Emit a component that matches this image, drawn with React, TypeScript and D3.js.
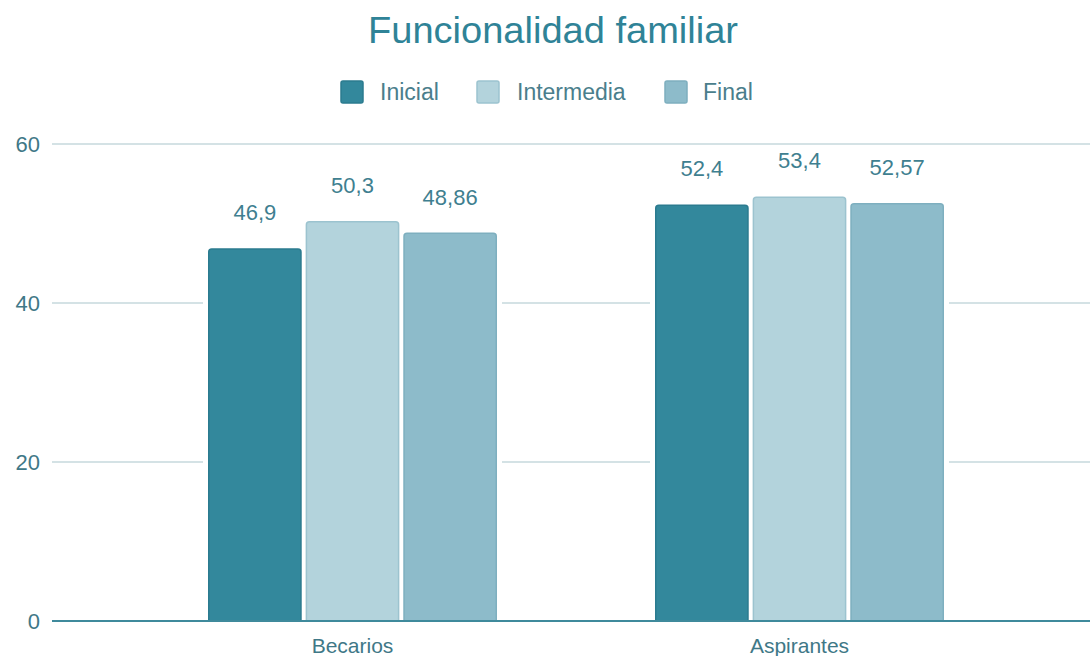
import React from "react";
import * as d3 from "d3";

const categories = ["Becarios", "Aspirantes"];
const seriesNames = ["Inicial", "Intermedia", "Final"];
const inicial = [46.9, 52.4];
const intermedia = [50.3, 53.4];
const finalVals = [48.86, 52.57];
const labelsInicial = ["46,9", "52,4"];
const labelsIntermedia = ["50,3", "53,4"];
const labelsFinal = ["48,86", "52,57"];
const yTicks = [0, 20, 40, 60];

const fills = ["#33889c", "#b3d3dc", "#8dbbca"];
const strokes = ["#2b7b8f", "#9cc3cf", "#7eafbf"];

const W = 1090;
const H = 656;
const FONT = "'Liberation Sans', Arial, sans-serif";

function topRounded(x: number, y: number, w: number, h: number, r: number) {
  const rr = Math.min(r, h);
  return `M${x},${y + h}V${y + rr}Q${x},${y} ${x + rr},${y}H${x + w - rr}Q${x + w},${y} ${x + w},${y + rr}V${y + h}Z`;
}

export default function App() {
  const series = [inicial, intermedia, finalVals];
  const labels = [labelsInicial, labelsIntermedia, labelsFinal];
  const y = d3.scaleLinear().domain([0, 60]).range([621, 144]);
  const x0 = d3.scaleBand<string>().domain(categories).range([129, 1023]).paddingInner(0).paddingOuter(0);
  const groupW = 289;
  const x1 = d3
    .scaleBand<string>()
    .domain(seriesNames)
    .range([0, groupW])
    .paddingInner(0.04);

  const gridLeft = 52;
  const gridRight = 1090;

  const legend = [
    { sx: 341, tx: 380 },
    { sx: 477, tx: 517 },
    { sx: 665, tx: 703 },
  ];

  return (
    <div style={{ position: "fixed", left: 0, top: 0, width: W, height: H }}>
      <svg width={W} height={H} style={{ display: "block", background: "#fff" }}>
        <text
          x={553}
          y={43}
          textAnchor="middle"
          fontFamily={FONT}
          fontSize={36}
          fill="#2f8397"
          textLength={370}
          lengthAdjust="spacingAndGlyphs"
        >
          Funcionalidad familiar
        </text>
        {/* legend */}
        {legend.map((p, i) => (
          <g key={seriesNames[i]}>
            <rect x={p.sx} y={81} width={22} height={22} rx={2} fill={fills[i]} stroke={strokes[i]} strokeWidth={1.5} />
            <text x={p.tx} y={100} fontFamily={FONT} fontSize={23} fill="#4a7e8c">
              {seriesNames[i]}
            </text>
          </g>
        ))}
        {/* gridlines */}
        {yTicks.map((t) => (
          <g key={t}>
            <line
              x1={gridLeft}
              x2={gridRight}
              y1={y(t)}
              y2={y(t)}
              stroke={t === 0 ? "#3f8a9c" : "#c6d8dd"}
              strokeWidth={t === 0 ? 2 : 1.5}
            />
            <text x={40} y={y(t) + 8} textAnchor="end" fontFamily={FONT} fontSize={22} fill="#3f7887">
              {t}
            </text>
          </g>
        ))}
        {/* bars */}
        {categories.map((c, ci) => {
          const gx = (x0(c) as number) + x0.bandwidth() / 2 - groupW / 2;
          const maxV = d3.max(series, (s) => s[ci]) as number;
          return (
            <g key={c}>
              <rect
                x={gx - 5}
                y={y(maxV) - 4}
                width={groupW + 10}
                height={y(0) - y(maxV) + 3}
                fill="#fff"
              />
              {seriesNames.map((sn, si) => {
                const bx = gx + (x1(sn) as number);
                const bw = x1.bandwidth();
                const v = series[si][ci];
                const top = y(v);
                return (
                  <g key={sn}>
                    <path
                      d={topRounded(bx + 0.75, top + 0.75, bw - 1.5, y(0) - top - 0.75, 3)}
                      fill={fills[si]}
                      stroke={strokes[si]}
                      strokeWidth={1.5}
                    />
                    <text
                      x={bx + bw / 2}
                      y={top - 28}
                      textAnchor="middle"
                      fontFamily={FONT}
                      fontSize={22}
                      fill="#3f7f90"
                    >
                      {labels[si][ci]}
                    </text>
                  </g>
                );
              })}
              <text
                x={(x0(c) as number) + x0.bandwidth() / 2}
                y={653}
                textAnchor="middle"
                fontFamily={FONT}
                fontSize={21}
                fill="#3f7887"
              >
                {c}
              </text>
            </g>
          );
        })}
        <line x1={gridLeft} x2={gridRight} y1={y(0)} y2={y(0)} stroke="#3f8a9c" strokeWidth={2} />
      </svg>
    </div>
  );
}
